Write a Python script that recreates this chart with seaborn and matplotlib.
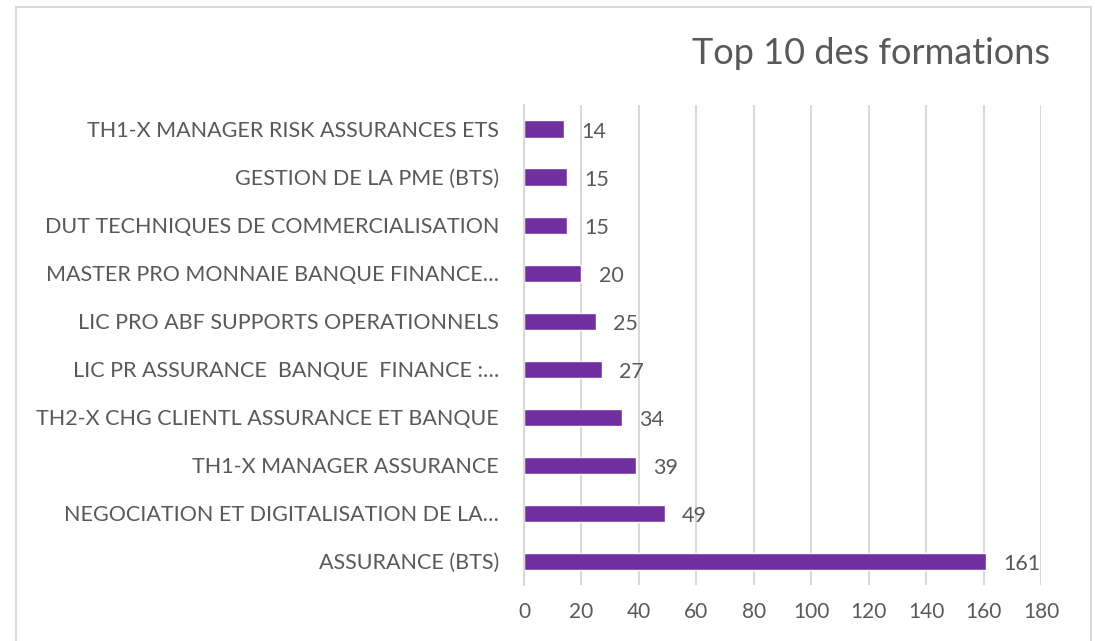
import matplotlib
matplotlib.use("Agg")
import matplotlib.pyplot as plt
import seaborn as sns
import pandas as pd
from matplotlib.patches import Rectangle

formations = [
    "TH1-X MANAGER RISK ASSURANCES ETS",
    "GESTION DE LA PME (BTS)",
    "DUT TECHNIQUES DE COMMERCIALISATION",
    "MASTER PRO MONNAIE BANQUE FINANCE…",
    "LIC PRO ABF SUPPORTS OPERATIONNELS",
    "LIC PR ASSURANCE  BANQUE  FINANCE :…",
    "TH2-X CHG CLIENTL ASSURANCE ET BANQUE",
    "TH1-X MANAGER ASSURANCE",
    "NEGOCIATION ET DIGITALISATION DE LA…",
    "ASSURANCE (BTS)",
]
effectifs = [14, 15, 15, 20, 25, 27, 34, 39, 49, 161]
xticks = [0, 20, 40, 60, 80, 100, 120, 140, 160, 180]

df = pd.DataFrame({"formation": formations, "n": effectifs})

sns.set_theme(style="white")
plt.rcParams["font.family"] = ["Lato", "DejaVu Sans"]
grey = "#595959"
purple = "#7030A0"

fig = plt.figure(figsize=(10.95, 6.41), dpi=100)
ax = fig.add_axes([0.4785, 0.087, 0.4722, 0.749])

sns.barplot(data=df, y="formation", x="n", orient="h", color=purple,
            saturation=1, width=0.36, ax=ax)

# étiquettes de valeur à droite des barres
for i, v in enumerate(effectifs):
    ax.text(v + 6, i + 0.05, str(v), va="center", ha="left", fontsize=15.5, color=grey)

ax.set_xlim(0, 180)
ax.set_xticks(xticks)
ax.set_ylim(9.5, -0.5)
ax.grid(axis="x", color="#D9D9D9", linewidth=1.5)
ax.set_axisbelow(True)
for s in ["top", "right", "bottom"]:
    ax.spines[s].set_visible(False)
ax.spines["left"].set_color("#D9D9D9")
ax.spines["left"].set_linewidth(1.5)
ax.tick_params(axis="both", length=0, labelcolor=grey)
ax.tick_params(axis="y", pad=18, labelsize=15.5)
ax.tick_params(axis="x", pad=12, labelsize=15)
ax.set_xlabel("")
ax.set_ylabel("")

fig.text(1050 / 1095, 1 - 53 / 641, "Top 10 des formations", ha="right",
         va="center", fontsize=26, color=grey)

# cadre du graphique (ouvert en bas, comme la capture)
fig.patches.append(Rectangle((16 / 1095, -0.05), (1091 - 16) / 1095, 1.05 - 7 / 641,
                             transform=fig.transFigure, fill=False,
                             edgecolor="#D9D9D9", linewidth=1.5))

fig.savefig("out.png", dpi=100, facecolor="white")
